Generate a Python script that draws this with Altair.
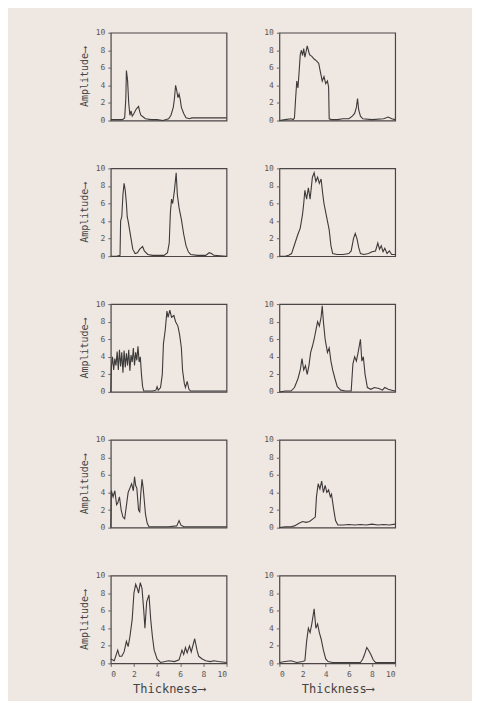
import altair as alt
import pandas as pd

# (thickness, amplitude) pairs, row by row
p1 = [(0,0.1),(0.5,0.1),(1.0,0.1),(1.2,0.3),(1.3,2.5),(1.35,5.7),(1.45,4.6),(1.55,2.0),(1.65,0.6),(1.75,1.1),(1.85,0.5),(2.0,0.8),(2.2,1.3),(2.4,1.6),(2.5,1.0),(2.6,0.6),(2.8,0.4),(3.0,0.2),(3.5,0.1),(4.0,0.1),(4.5,0.0),(5.0,0.2),(5.2,0.6),(5.4,1.5),(5.5,2.5),(5.6,4.0),(5.7,3.4),(5.8,2.6),(5.9,3.0),(6.0,2.4),(6.1,1.5),(6.3,0.8),(6.5,0.3),(6.8,0.2),(7.0,0.3),(7.5,0.3),(8.0,0.3),(9.0,0.3),(10,0.3)]
p2 = [(0,0),(0.5,0.1),(1.0,0.2),(1.2,0.1),(1.3,0.3),(1.4,2.5),(1.5,4.5),(1.6,3.7),(1.7,5.5),(1.8,7.5),(1.9,8.0),(2.0,7.4),(2.1,8.2),(2.2,7.2),(2.3,7.8),(2.4,8.5),(2.5,8.0),(2.6,7.5),(2.8,7.3),(3.0,7.0),(3.2,6.8),(3.4,6.5),(3.5,5.8),(3.7,4.5),(3.85,5.0),(4.0,4.2),(4.15,4.5),(4.25,3.8),(4.3,0.2),(4.5,0.1),(5.0,0.1),(5.5,0.2),(6.0,0.2),(6.3,0.5),(6.5,0.8),(6.65,1.5),(6.75,2.5),(6.85,1.2),(7.0,0.5),(7.2,0.2),(8.0,0.1),(9.0,0.2),(9.4,0.4),(9.7,0.2),(10,0.1)]
p3 = [(0,0),(0.5,0),(0.8,0.1),(0.85,4.0),(0.95,4.5),(1.05,7.0),(1.15,8.3),(1.25,7.5),(1.35,6.0),(1.42,4.5),(1.5,4.0),(1.6,3.2),(1.75,2.0),(1.9,0.8),(2.1,0.3),(2.3,0.4),(2.5,0.8),(2.75,1.1),(2.9,0.6),(3.2,0.2),(3.6,0.1),(4.0,0.1),(4.6,0.1),(4.9,0.4),(5.05,1.5),(5.15,5.0),(5.25,6.5),(5.35,6.0),(5.5,7.5),(5.65,9.5),(5.75,7.0),(5.9,5.5),(6.1,4.2),(6.3,2.5),(6.5,1.2),(6.7,0.5),(6.9,0.2),(7.5,0.1),(8.2,0.1),(8.5,0.4),(8.7,0.3),(8.9,0.1),(10,0.0)]
p4 = [(0,0),(0.5,0),(0.8,0.1),(1.05,0.3),(1.35,1.5),(1.6,2.5),(1.8,3.2),(2.0,4.8),(2.1,6.0),(2.2,7.5),(2.35,6.5),(2.5,7.8),(2.65,6.5),(2.85,9.0),(3.0,9.5),(3.15,8.5),(3.3,9.0),(3.45,8.3),(3.6,8.8),(3.75,7.0),(3.85,6.0),(4.0,5.0),(4.15,4.0),(4.3,3.0),(4.45,1.2),(4.6,0.3),(5.0,0.2),(5.5,0.2),(6.0,0.3),(6.2,0.6),(6.4,2.0),(6.55,2.6),(6.7,2.0),(6.85,1.0),(7.0,0.3),(7.3,0.2),(7.7,0.3),(8.0,0.5),(8.3,0.6),(8.5,1.5),(8.65,0.8),(8.8,1.2),(8.95,0.5),(9.1,0.9),(9.3,0.3),(9.5,0.6),(9.7,0.2),(10,0.2)]
p5 = [(0,0),(0.05,2.8),(0.15,4.0),(0.25,2.5),(0.35,3.8),(0.45,3.0),(0.55,4.6),(0.65,2.5),(0.75,4.8),(0.85,2.9),(0.95,4.5),(1.05,2.2),(1.15,4.7),(1.25,2.8),(1.35,4.4),(1.45,3.0),(1.55,4.8),(1.65,2.4),(1.75,4.2),(1.85,3.4),(1.95,5.0),(2.05,3.0),(2.15,4.5),(2.25,3.6),(2.35,5.2),(2.45,3.4),(2.55,4.0),(2.65,2.0),(2.75,0.6),(2.85,0.1),(3.2,0.1),(3.6,0.1),(3.9,0.2),(4.0,0.6),(4.1,0.2),(4.3,0.5),(4.45,2.0),(4.55,5.5),(4.7,7.0),(4.85,9.2),(4.95,8.5),(5.1,9.3),(5.25,8.5),(5.45,8.7),(5.6,8.0),(5.8,7.5),(5.95,6.5),(6.1,5.0),(6.2,2.5),(6.35,1.0),(6.45,0.5),(6.6,1.2),(6.75,0.3),(6.9,0.1),(7.5,0.1),(10,0.1)]
p6 = [(0,0),(0.5,0.1),(1.0,0.1),(1.3,0.5),(1.6,1.5),(1.8,2.5),(1.95,3.8),(2.1,2.5),(2.25,3.0),(2.4,2.0),(2.55,3.0),(2.7,4.5),(2.85,5.2),(3.0,6.0),(3.15,7.0),(3.3,8.0),(3.45,7.5),(3.6,8.5),(3.7,9.8),(3.8,8.0),(3.95,6.0),(4.15,4.5),(4.3,5.0),(4.45,3.5),(4.6,2.5),(4.8,1.5),(5.0,0.6),(5.3,0.2),(5.7,0.1),(6.2,0.1),(6.35,3.2),(6.5,4.0),(6.65,3.5),(6.8,4.5),(7.0,6.0),(7.12,3.5),(7.25,4.0),(7.4,2.0),(7.6,0.5),(7.9,0.3),(8.2,0.5),(8.6,0.4),(8.9,0.2),(9.1,0.5),(9.4,0.3),(9.7,0.2),(10,0.1)]
p7 = [(0,0),(0.05,4.2),(0.2,3.5),(0.35,4.2),(0.5,2.6),(0.6,2.8),(0.75,3.5),(0.9,2.0),(1.05,1.2),(1.2,1.0),(1.35,2.5),(1.5,4.0),(1.65,4.5),(1.8,5.0),(1.95,4.2),(2.05,5.8),(2.15,4.8),(2.25,4.5),(2.4,2.0),(2.5,1.8),(2.6,4.0),(2.7,5.5),(2.8,4.5),(2.9,3.0),(3.0,1.5),(3.15,0.5),(3.3,0.1),(4.0,0.1),(5.0,0.1),(5.7,0.2),(5.9,0.8),(6.05,0.3),(6.3,0.1),(8.0,0.1),(10,0.1)]
p8 = [(0,0),(0.5,0.1),(1.0,0.1),(1.3,0.2),(1.7,0.5),(2.0,0.7),(2.3,0.6),(2.6,0.7),(2.9,1.0),(3.1,1.2),(3.2,3.5),(3.35,5.0),(3.5,4.4),(3.65,5.3),(3.8,4.0),(3.95,4.8),(4.1,4.0),(4.25,4.3),(4.4,3.5),(4.5,3.8),(4.7,2.0),(4.85,0.8),(5.05,0.3),(5.5,0.3),(6.0,0.35),(6.5,0.3),(7.0,0.35),(7.5,0.3),(8.0,0.4),(8.5,0.3),(9.0,0.35),(9.5,0.3),(10,0.4)]
p9 = [(0,0.5),(0.3,0.3),(0.6,1.5),(0.75,0.8),(0.95,0.8),(1.15,1.3),(1.35,2.5),(1.5,1.9),(1.65,3.0),(1.85,5.0),(2.0,8.0),(2.15,9.0),(2.3,8.5),(2.4,8.0),(2.55,9.2),(2.7,8.5),(2.85,6.0),(2.95,4.0),(3.1,7.0),(3.3,7.8),(3.45,5.0),(3.6,3.0),(3.75,1.5),(4.0,0.5),(4.3,0.1),(4.7,0.2),(5.0,0.3),(5.5,0.2),(5.9,0.4),(6.15,1.5),(6.3,1.0),(6.45,1.8),(6.6,1.2),(6.8,2.0),(6.95,1.3),(7.25,2.8),(7.45,1.5),(7.6,0.8),(7.9,0.5),(8.2,0.3),(8.6,0.2),(8.9,0.3),(9.3,0.2),(10,0.1)]
p10 = [(0,0.1),(0.5,0.2),(1.0,0.3),(1.5,0.1),(2.0,0.2),(2.2,0.3),(2.35,2.5),(2.5,4.0),(2.65,3.5),(2.8,4.5),(3.0,6.2),(3.15,4.0),(3.3,4.5),(3.45,3.5),(3.6,2.8),(3.8,1.5),(4.0,0.5),(4.2,0.2),(4.6,0.1),(6.0,0.1),(7.0,0.1),(7.2,0.5),(7.35,1.0),(7.55,1.8),(7.7,1.5),(7.9,1.0),(8.1,0.4),(8.3,0.1),(10,0.1)]

tick_values = [0, 2, 4, 6, 8, 10]
x_title = "Thickness⟶"
y_title = "Amplitude⟶"

rows = [(p1, p2), (p3, p4), (p5, p6), (p7, p8), (p9, p10)]

FONT = "DejaVu Sans Mono"
INK = "#3d3a3a"


def panel(pairs, bottom, left):
    df = pd.DataFrame(pairs, columns=["x", "y"])
    if bottom:
        xenc = alt.X("x:Q", scale=alt.Scale(domain=[0, 10], nice=False),
                     axis=alt.Axis(values=tick_values, grid=False, domain=False,
                                   title=x_title, titleFontSize=12,
                                   titlePadding=5, labelPadding=4))
    else:
        xenc = alt.X("x:Q", scale=alt.Scale(domain=[0, 10], nice=False), axis=None)
    if left:
        yenc = alt.Y("y:Q", scale=alt.Scale(domain=[0, 10], nice=False),
                     axis=alt.Axis(values=tick_values, grid=False, domain=False,
                                   title=y_title, titleFontSize=10, titlePadding=6))
    else:
        yenc = alt.Y("y:Q", scale=alt.Scale(domain=[0, 10], nice=False), title=None,
                     axis=alt.Axis(values=tick_values, grid=False, domain=False))
    return alt.Chart(df).mark_line(color=INK, strokeWidth=1.1, interpolate="linear").encode(
        x=xenc, y=yenc
    ).properties(width=116, height=88)


row_charts = []
for i, (a, b) in enumerate(rows):
    last = i == len(rows) - 1
    row_charts.append(alt.hconcat(panel(a, last, True), panel(b, last, False), spacing=33))

chart = alt.vconcat(*row_charts, spacing=38).properties(
    background="#efe7e2",
    padding={"left": 70, "top": 19, "right": 74, "bottom": 5},
).configure_view(
    stroke="#4a4646", strokeWidth=1.2
).configure_axis(
    labelFont=FONT, titleFont=FONT, labelFontSize=8, labelColor="#555",
    titleColor="#444", titleFontWeight="normal", tickColor="#666", tickSize=3,
    labelPadding=3
)

chart.save("out.html", embed_options={"renderer": "svg", "actions": False})
